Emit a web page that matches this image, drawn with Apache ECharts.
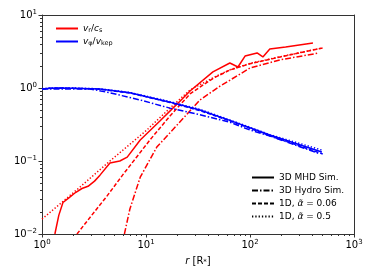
<!DOCTYPE html>
<html><head><meta charset="utf-8">
<script src="https://cdn.jsdelivr.net/npm/echarts@6/dist/echarts.min.js"></script>
<style>html,body{margin:0;padding:0;background:#fff}#c{width:374px;height:280px}</style>
</head><body><div id="c"></div>
<script>
// [r (R_*), value]
const redSolid = [[1.33,0.01],[1.45,0.018],[1.59,0.027],[1.8,0.031],[2.1,0.037],[2.42,0.042],[2.77,0.045],[3.2,0.053],[3.61,0.064],[4.5,0.094],[5.6,0.1],[6.6,0.113],[8.8,0.194],[13.6,0.353],[20.3,0.62],[26.5,0.91],[44,1.66],[64,2.2],[76.6,1.94],[89.6,2.74],[117,3.02],[133,2.66],[155,3.42],[220,3.65],[403,4.14]];
const redDashed = [[2.17,0.01],[3,0.018],[4.21,0.033],[6,0.065],[8,0.11],[10.9,0.194],[17,0.413],[26.5,0.83],[33,1.03],[45,1.38],[64,1.76],[100,2.15],[195,2.66],[500,3.53]];
const redDotted = [[1,0.016],[2.32,0.044],[4.5,0.1],[10.2,0.266],[17,0.53],[26.5,0.94],[45,1.4],[64,1.78],[100,2.17],[195,2.68],[500,3.55]];
const redDashDot = [[6.2,0.01],[7,0.022],[8.8,0.06],[12.7,0.155],[19,0.29],[33,0.685],[51,1.05],[100,1.88],[200,2.45],[452,3.0]];
const blueSolid = [[1,0.97],[1.2,0.99],[1.5,1.0],[2,0.99],[3.6,0.97],[7,0.86],[17,0.64],[33,0.5],[64,0.36],[155,0.227],[490,0.133]];
const blueDashed = [[1,0.97],[1.2,0.99],[1.5,1.0],[2,0.99],[3.6,0.965],[7,0.855],[17,0.635],[33,0.49],[64,0.355],[155,0.222],[500,0.125]];
const blueDotted = [[1,0.98],[1.2,1.0],[1.5,1.0],[2,1.0],[3.6,0.975],[7,0.87],[17,0.65],[33,0.51],[64,0.365],[155,0.23],[500,0.14]];
const blueDashDot = [[1,0.97],[2.9,0.97],[4.5,0.86],[8.8,0.685],[17,0.53],[33,0.43],[64,0.34],[100,0.266],[155,0.22],[452,0.128]];
const xMajor = [1,10,100,1000];
const yMajor = [0.01,0.1,1,10];
const xMinor = [2,3,4,5,6,7,8,9,20,30,40,50,60,70,80,90,200,300,400,500,600,700,800,900];
const yMinor = [0.02,0.03,0.04,0.05,0.06,0.07,0.08,0.09,0.2,0.3,0.4,0.5,0.6,0.7,0.8,0.9,2,3,4,5,6,7,8,9];
const styleNames = ['3D MHD Sim.','3D Hydro Sim.','1D, {a|α̃} = 0.06','1D, {a|α̃} = 0.5'];
const colorNames = ['{i|v}{sub|r}/{i|c}{sub|s}','{i|v}{sub|φ}/{i|v}{sub|kep}'];

const FONT = 'DejaVu Sans';
const AX = '#333';
const DASH = [4,2], DOT = [1.3,2], DASHDOT = [6,2,1.5,2];
function expLabel(v){ const e = Math.round(Math.log10(v)); return '10{sup|' + (e<0?'−'+(-e):e) + '}'; }
const labelRich = { sup:{fontSize:7, fontFamily:FONT, color:'#000', verticalAlign:'top', padding:[0,0,6,0]} };

function line(name, data, color, type){
  return {type:'line', name, data, symbol:'none', showSymbol:false, smooth:false, clip:true,
    lineStyle:{color, width:1.5, type}, itemStyle:{color}, silent:true, z:3};
}
const series = [
  line(colorNames[0], redSolid, '#ff0000', 'solid'),
  line('rd', redDashed, '#ff0000', DASH),
  line('rdot', redDotted, '#ff0000', DOT),
  line('rdd', redDashDot, '#ff0000', DASHDOT),
  line(colorNames[1], blueSolid, '#0000ff', 'solid'),
  line('bd', blueDashed, '#0000ff', DASH),
  line('bdot', blueDotted, '#0000ff', DOT),
  line('bdd', blueDashDot, '#0000ff', DASHDOT),
  line(styleNames[0], [], '#000', 'solid'),
  line(styleNames[1], [], '#000', DASHDOT),
  line(styleNames[2], [], '#000', DASH),
  line(styleNames[3], [], '#000', DOT)
];

const grid = {left:42, right:20, top:15, bottom:46, containLabel:false};
const option = {
  animation:false,
  backgroundColor:'#fff',
  grid,
  legend:[
    {data:colorNames, orient:'vertical', left:50, top:19, itemWidth:22, itemHeight:8, itemGap:3,
     itemStyle:{opacity:0, borderWidth:0},
     textStyle:{fontFamily:FONT, fontSize:9, color:'#000', rich:{i:{fontStyle:'italic',fontFamily:FONT,fontSize:9}, sub:{fontSize:6.5,fontFamily:FONT,verticalAlign:'bottom',padding:[4,0,0,0]}}},
     selectedMode:false},
    {data:styleNames, orient:'vertical', left:246, top:168, itemWidth:22, itemHeight:8, itemGap:4,
     itemStyle:{opacity:0, borderWidth:0},
     textStyle:{fontFamily:FONT, fontSize:9, color:'#000', rich:{a:{fontStyle:'italic',fontFamily:FONT,fontSize:9}}},
     selectedMode:false}
  ],
  xAxis:[
    {type:'log', logBase:10, min:1, max:1000, position:'bottom', gridIndex:0,
     axisLine:{show:true, lineStyle:{color:AX, width:1}}, splitLine:{show:false},
     axisTick:{show:true, length:3.5, lineStyle:{color:AX}},
     axisLabel:{show:true, formatter:expLabel, fontFamily:FONT, fontSize:10, color:'#000', margin:5, rich:labelRich},
     name:'{i|r} [{n|R}{s|*}]', nameLocation:'middle', nameGap:22,
     nameTextStyle:{fontFamily:FONT, fontSize:10, color:'#000', rich:{i:{fontStyle:'italic',fontFamily:FONT,fontSize:10}, n:{fontFamily:FONT,fontSize:10}, s:{fontFamily:FONT,fontSize:7,verticalAlign:'bottom'}}}},
    {type:'log', logBase:10, min:1, max:1000, position:'bottom', gridIndex:0,
     axisLine:{show:false}, splitLine:{show:false}, axisLabel:{show:false},
     axisTick:{show:true, length:2, lineStyle:{color:AX}, customValues:xMinor}},
    {type:'log', logBase:10, min:1, max:1000, position:'top', gridIndex:0,
     axisLine:{show:true, lineStyle:{color:AX, width:1}}, splitLine:{show:false}, axisLabel:{show:false}, axisTick:{show:false}}
  ],
  yAxis:[
    {type:'log', logBase:10, min:0.01, max:10, position:'left', gridIndex:0,
     axisLine:{show:true, lineStyle:{color:AX, width:1}}, splitLine:{show:false},
     axisTick:{show:true, length:3.5, lineStyle:{color:AX}},
     axisLabel:{show:true, formatter:expLabel, fontFamily:FONT, fontSize:10, color:'#000', margin:5, rich:labelRich}},
    {type:'log', logBase:10, min:0.01, max:10, position:'left', gridIndex:0,
     axisLine:{show:false}, splitLine:{show:false}, axisLabel:{show:false},
     axisTick:{show:true, length:2, lineStyle:{color:AX}, customValues:yMinor}},
    {type:'log', logBase:10, min:0.01, max:10, position:'right', gridIndex:0,
     axisLine:{show:true, lineStyle:{color:AX, width:1}}, splitLine:{show:false}, axisLabel:{show:false}, axisTick:{show:false}}
  ],
  series
};
const chart = echarts.init(document.getElementById('c'), null, {renderer:'canvas'});
chart.setOption(option);
</script></body></html>
